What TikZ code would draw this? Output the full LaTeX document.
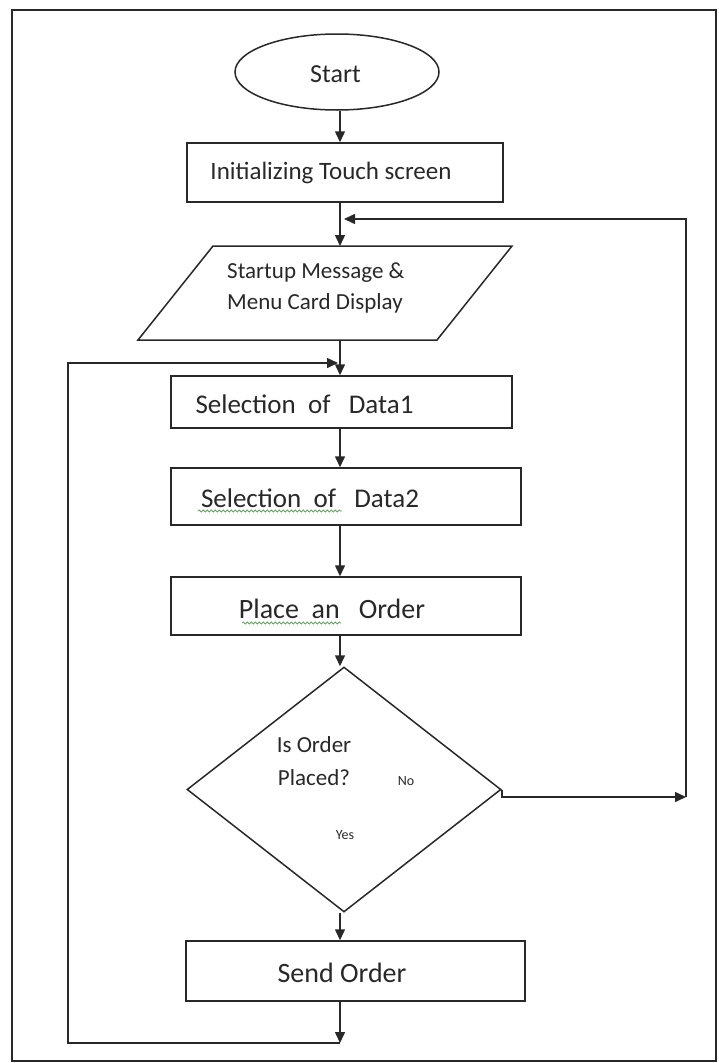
\documentclass[tikz,border=0pt]{standalone}
\usepackage{fontspec}
\setmainfont{Carlito}
\usetikzlibrary{arrows.meta,shapes.geometric,decorations.pathmorphing}
\definecolor{ink}{RGB}{40,40,40}
\definecolor{spell}{RGB}{90,170,90}
\begin{document}
\begin{tikzpicture}[x=1pt,y=-1pt,
  lw/.style={line width=1.5pt},
  box/.style={draw=ink, lw, inner sep=0pt},
  arr/.style={draw=ink, lw, -{Triangle[length=11pt,width=10pt]}},
  txt/.style={text=ink, inner sep=0pt, anchor=center},
  wavy/.style={draw=spell, line width=0.8pt, decorate, decoration={snake, amplitude=1.1pt, segment length=4pt}}]
\useasboundingbox (0,0) rectangle (719,1063);
\draw[ink, lw] (12,10) rectangle (716,1061);
\coordinate (ax) at (340,0);
% nodes
\node[box, ellipse, minimum width=204pt, minimum height=76pt] (start) at (337,72) {};
\node[txt, font=\fontsize{26}{26}\selectfont] (tstart) at (335.5,74) {Start};
\node[box, minimum width=316pt, minimum height=59pt] (init) at (345,172.5) {};
\node[txt, font=\fontsize{25}{25}\selectfont] (tinit) at (331,173) {Initializing Touch screen};
\coordinate (p1) at (213,246);
\coordinate (p2) at (512,246);
\coordinate (p3) at (437,340);
\coordinate (p4) at (138,340);
\draw[ink, lw] (p1) -- (p2) -- (p3) -- (p4) -- cycle;
\coordinate (ptop) at (340,246);
\coordinate (pbot) at (340,340);
\node[txt, anchor=west, align=left, font=\fontsize{23}{31}\selectfont] (tpara) at (227,288) {Startup Message \&\\Menu Card Display};
\node[box, minimum width=341pt, minimum height=52pt] (d1) at (341.5,402) {};
\node[txt, font=\fontsize{27}{27}\selectfont] (td1) at (304.5,404) {Selection\ \ of\ \ \ Data1};
\node[box, minimum width=350pt, minimum height=57pt] (d2) at (346,496.5) {};
\node[txt, font=\fontsize{27}{27}\selectfont] (td2) at (310,498) {Selection\ \ of\ \ \ Data2};
\node[box, minimum width=350pt, minimum height=58pt] (place) at (346,606) {};
\node[txt, font=\fontsize{28}{28}\selectfont] (tplace) at (332,609) {Place\ \ an\ \ \ Order};
\node[box, diamond, minimum width=314pt, minimum height=245pt] (dia) at (344,789.5) {};
\node[txt, font=\fontsize{23}{23}\selectfont] (tq1) at (314,745) {Is Order};
\node[txt, font=\fontsize{23}{23}\selectfont] (tq2) at (314,778) {Placed?};
\node[txt, font=\fontsize{14}{14}\selectfont] (tno) at (406,781) {No};
\node[txt, font=\fontsize{14}{14}\selectfont] (tyes) at (345,835) {Yes};
\node[box, minimum width=339pt, minimum height=60pt] (send) at (355.5,971) {};
\node[txt, font=\fontsize{28}{28}\selectfont] (tsend) at (342,973) {Send Order};
% spell-check underlines
\draw[wavy] (198,511) -- (342,511);
\draw[wavy] (242,623) -- (341,623);
% connectors
\coordinate (no) at (686,797);
\coordinate (m1) at (344,219);
\coordinate (lb) at (340,1043);
\coordinate (lc) at (68,363);
\coordinate (m2) at (338,363);
\draw[arr] (ax |- start.south) -- (ax |- init.north);
\draw[arr] (ax |- init.south) -- (ptop);
\draw[arr] (pbot) -- (ax |- d1.north);
\draw[arr] (ax |- d1.south) -- (ax |- d2.north);
\draw[arr] (ax |- d2.south) -- (ax |- place.north);
\draw[arr] (ax |- place.south) -- (ax |- dia.north);
\draw[arr] (ax |- dia.south) -- (ax |- send.north);
\draw[arr] (ax |- send.south) -- (lb);
\draw[arr] (dia.east) |- (no);
\draw[arr] (no) |- (m1);
\draw[arr] (lb) -| (lc) -- (m2);
\end{tikzpicture}
\end{document}
